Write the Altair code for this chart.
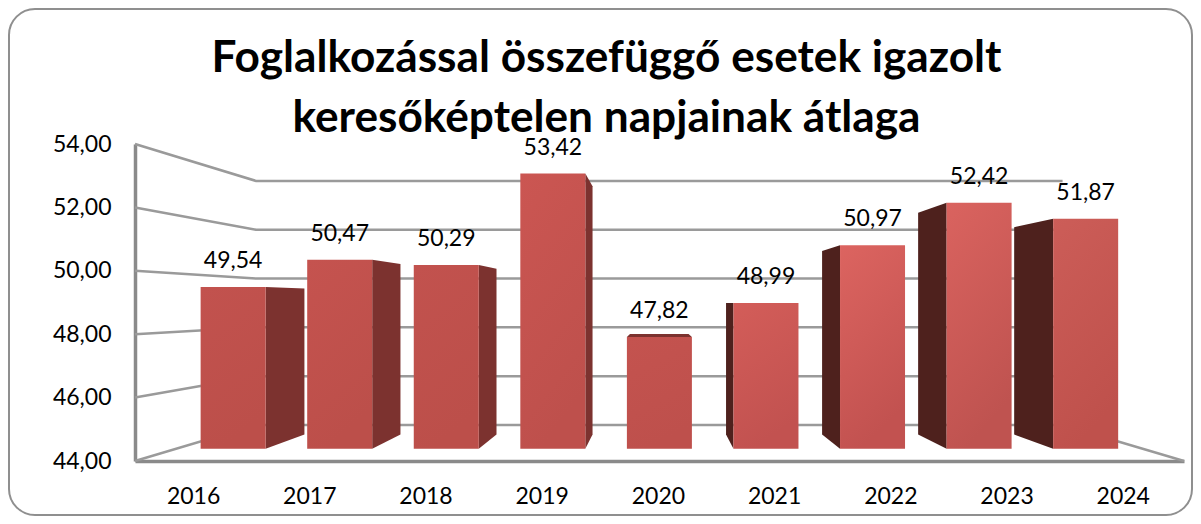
import altair as alt
import pandas as pd

TITLE_LINES = ["Foglalkozással összefüggő esetek igazolt", "keresőképtelen napjainak átlaga"]
YEARS = ["2016", "2017", "2018", "2019", "2020", "2021", "2022", "2023", "2024"]
VALUES = [49.54, 50.47, 50.29, 53.42, 47.82, 48.99, 50.97, 52.42, 51.87]
TICKS = [44, 46, 48, 50, 52, 54]

# perspective of the 3-D plot: vanishing point and plane scale factors
VU, VV = 4.49, 48.94
WALL = (0.769, 0.77)
FRONT = (0.9143, 0.921)
BACK = (0.824, 0.8315)
HALF = 0.305
BASE = 44
XMAX = 9
GRID = "#9a9a9a"
FONT = "Lato"

SHADES = [("#C2524E", "#BC4F4A"), ("#C5534F", "#BC4F4A"), ("#C2524E", "#BC4F4A"),
          ("#CB5652", "#BE504C"), ("#C4534F", "#BE504C"), ("#D35D59", "#C25250"),
          ("#DC6460", "#C25250"), ("#DA635F", "#BF5350"), ("#CC5D58", "#BF514C")]


def px(u, s):
    return VU + (u - VU) * s[0]


def py(v, s):
    return VV + (v - VV) * s[1]


xs = alt.Scale(domain=[0, XMAX], nice=False, zero=False)
ys = alt.Scale(domain=[BASE, max(TICKS)], nice=False, zero=False)
tick_labels = "[" + ",".join("'%s'" % y for y in YEARS) + "][floor(datum.value)]"
x_axis = alt.Axis(values=[(i + 0.5) * 0.997 for i in range(len(YEARS))], labelExpr=tick_labels, grid=False, ticks=False,
                  domainColor="#8a8a8a", domainWidth=3.5, labelPadding=24, labelFont=FONT, labelFontSize=23,
                  labelColor="black", labelAngle=0, labelOverlap=False, title=None)
y_axis = alt.Axis(values=TICKS, labelExpr="replace(format(datum.value,'.2f'),'.',',')", grid=False, ticks=False,
                  domainColor="#8a8a8a", domainWidth=3.5, labelPadding=24, labelFont=FONT, labelFontSize=23,
                  labelColor="black", title=None)
X = lambda f: alt.X(f, type="quantitative", scale=xs, axis=x_axis)
Y = lambda f: alt.Y(f, type="quantitative", scale=ys, axis=y_axis)

# frame of the chart
frame = alt.Chart(pd.DataFrame({"a": [0]})).mark_rect(
    fill="transparent", stroke="#8f8f8f", strokeWidth=2, cornerRadius=26, clip=False
).encode(x=alt.value(-126), x2=alt.value(1057), y=alt.value(-135), y2=alt.value(371))

# walls: grid lines run along the left wall, then the back wall
wall_rows = []
for t in TICKS:
    pts = [(0, t, (1, 1)), (0, t, WALL), (XMAX, t, WALL)]
    if t == BASE:
        pts.append((XMAX, t, (1, 1)))
    for k, (u, v, s) in enumerate(pts):
        wall_rows.append({"t": t, "k": k, "x": px(u, s), "y": py(v, s)})
walls = alt.Chart(pd.DataFrame(wall_rows)).mark_line(color=GRID, strokeWidth=2.5, clip=False).encode(
    x=X("x"), y=Y("y"), detail="t:N", order="k:Q")

# bar side and top faces
side_rows, top_rows = [], []
for i, (yr, val) in enumerate(zip(YEARS, VALUES)):
    c = i + 0.5
    l, r = c - HALF, c + HALF
    if r < VU:
        edge = r
        pts = [(px(edge, FRONT), FRONT), (px(edge, BACK), BACK)]
    elif l > VU:
        edge = l
        pts = [(px(edge, BACK), BACK), (px(edge, FRONT), FRONT)]
    else:
        pts = []
    for xv, s in pts:
        side_rows.append({"year": yr, "tone": "dark" if l > VU else "mid", "x": xv, "y": py(val, s), "y2": py(BASE, s)})
    if val < VV:
        yf, yb = py(val, FRONT), py(val, BACK)
        for xv, yy in [(px(l, FRONT), yf), (px(l, BACK), yb), (px(r, BACK), yb), (px(r, FRONT), yf)]:
            top_rows.append({"year": yr, "x": xv, "y": yy, "y2": yf})

sides = alt.Chart(pd.DataFrame(side_rows)).mark_area(orient="vertical", clip=False).encode(
    x=X("x"), y=Y("y"), y2="y2:Q", detail="year:N",
    color=alt.Color("tone:N", legend=None, scale=alt.Scale(domain=["mid", "dark"], range=["#7C322F", "#4E211D"])))
tops = alt.Chart(pd.DataFrame(top_rows)).mark_area(orient="vertical", color="#7C322F", clip=False).encode(
    x=X("x"), y=Y("y"), y2="y2:Q", detail="year:N")

# bar front faces
fronts = []
for i, (yr, val) in enumerate(zip(YEARS, VALUES)):
    c = i + 0.5
    grad = alt.LinearGradient(gradient="linear", x1=0, y1=0, x2=0.3, y2=1, stops=[
        alt.GradientStop(color=SHADES[i][0], offset=0), alt.GradientStop(color=SHADES[i][1], offset=1)])
    df = pd.DataFrame({"x": [px(c - HALF, FRONT)], "x2": [px(c + HALF, FRONT)],
                       "y": [py(val, FRONT)], "y2": [py(BASE, FRONT)]})
    fronts.append(alt.Chart(df).mark_rect(color=grad, clip=False).encode(
        x=X("x"), x2="x2:Q", y=Y("y"), y2="y2:Q"))

# value labels
lab = pd.DataFrame({
    "x": [px(i + 0.5, FRONT) for i in range(len(YEARS))],
    "y": [py(v, FRONT) for v in VALUES],
    "label": [("%.2f" % v).replace(".", ",") for v in VALUES],
})
labels = alt.Chart(lab).mark_text(dy=-26, font=FONT, fontSize=23, color="black", clip=False).encode(
    x=X("x"), y=Y("y"), text="label:N")

chart = alt.layer(frame, walls, sides, tops, *fronts, labels).properties(
    width=1049, height=317,
    autosize=alt.AutoSizeParams(type="none"),
    padding={"left": 127, "top": 136, "right": 9, "bottom": 55},
    title=alt.TitleParams(text=TITLE_LINES, font=FONT, fontSize=44.2, fontWeight="bold", color="black",
                          lineHeight=60, anchor="middle", dx=-53, offset=-133),
).configure_view(strokeWidth=0)

chart.save("out.html", embed_options={"renderer": "svg", "actions": False})
